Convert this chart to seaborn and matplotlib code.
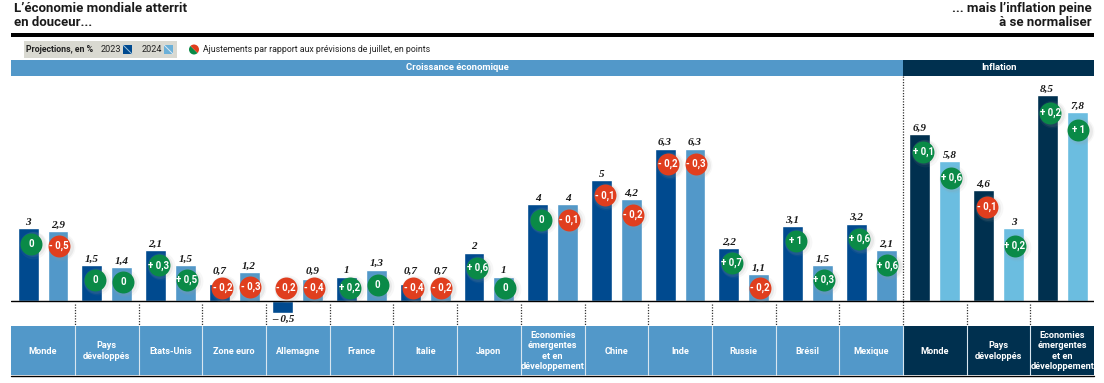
import matplotlib
matplotlib.use("Agg")
import matplotlib.pyplot as plt
from matplotlib.patches import Rectangle, Wedge
import numpy as np
import pandas as pd
import seaborn as sns

growth_labels = ["Monde", "Pays\ndéveloppés", "Etats-Unis", "Zone euro", "Allemagne", "France", "Italie", "Japon",
                 "Economies\némergentes\net en\ndéveloppement", "Chine", "Inde", "Russie", "Brésil", "Mexique"]
inflation_labels = ["Monde", "Pays\ndéveloppés", "Economies\némergentes\net en\ndéveloppement"]
growth_2023 = [3, 1.5, 2.1, 0.7, -0.5, 1, 0.7, 2, 4, 5, 6.3, 2.2, 3.1, 3.2]
growth_2024 = [2.9, 1.4, 1.5, 1.2, 0.9, 1.3, 0.7, 1, 4, 4.2, 6.3, 1.1, 1.5, 2.1]
inflation_2023 = [6.9, 4.6, 8.5]
inflation_2024 = [5.8, 3, 7.8]
adjust_2023 = [0, 0, 0.3, -0.2, -0.2, 0.2, -0.4, 0.6, 0, -0.1, -0.2, 0.7, 1, 0.6, 0.1, -0.1, 0.2]
adjust_2024 = [-0.5, 0, 0.5, -0.3, -0.4, 0, -0.2, 0, -0.1, -0.2, -0.3, -0.2, 0.3, 0.6, 0.6, 0.2, 1]

C_G23, C_G24, C_I23, C_I24 = "#004a8f", "#5298c9", "#00304f", "#6bbde0"
GREEN, RED = "#0a8a47", "#e03e1e"
NARROW = ["Liberation Sans Narrow", "Roboto", "DejaVu Sans"]
SERIF = ["Liberation Serif", "DejaVu Serif"]

sns.set_theme(style="white")
plt.rcParams["font.family"] = NARROW

W, H = 1104, 383
fig = plt.figure(figsize=(W / 100, H / 100), dpi=100)
CELL = 63.7
X0 = 11.2
TOP, BOT, BASE, PPU = 75.5, 326.0, 301.0, 24.18
n_g, n_i = len(growth_labels), len(inflation_labels)
n = n_g + n_i

ax = fig.add_axes([X0 / W, 1 - BOT / H, n * CELL / W, (BOT - TOP) / H])
ids = list(range(n))
frame = pd.DataFrame({
    "id": ids * 2,
    "year": ["2023"] * n + ["2024"] * n,
    "value": growth_2023 + inflation_2023 + growth_2024 + inflation_2024,
})
frame["panel"] = np.where(frame["id"] < n_g, "g", "i")
for panel, pal in (("g", [C_G23, C_G24]), ("i", [C_I23, C_I24])):
    sns.barplot(data=frame[frame["panel"] == panel], x="id", y="value", hue="year",
                order=ids, hue_order=["2023", "2024"], palette=pal, saturation=1,
                width=0.94, gap=0.3, dodge=True, legend=False, ax=ax, errorbar=None)
ax.set_xlim(-0.5, n - 0.5)
ax.set_ylim((BASE - BOT) / PPU, (BASE - TOP) / PPU)
ax.axis("off")
ax.axhline(0, color="black", lw=1.0, zorder=3)


def fr(v):
    s = f"{abs(v):g}".replace(".", ",")
    return s if v >= 0 else "– " + s


def signed(v):
    if v == 0:
        return "0"
    return ("+ " if v > 0 else "- ") + f"{abs(v):g}".replace(".", ",")


values = {0: growth_2023 + inflation_2023, 1: growth_2024 + inflation_2024}
adjusts = {0: adjust_2023, 1: adjust_2024}
bar_off = {0: -0.235, 1: 0.235}
bub_off = {0: -0.185, 1: 0.255}
for k in (0, 1):
    for i in ids:
        v, a = values[k][i], adjusts[k][i]
        ax.annotate(fr(v), (i + bar_off[k], max(v, 1.0) if v >= 0 else v),
                    xytext=(0, 1 if v >= 0 else -1), textcoords="offset points",
                    ha="center", va="bottom" if v >= 0 else "top",
                    family=SERIF, style="italic", weight="bold", fontsize=8,
                    color="#1a1a1a", zorder=6)
        drop = 0.63 if i < n_g else 0.72
        by = max(v - drop, 0.54)
        bx = i + bub_off[k]
        c = GREEN if a >= 0 else RED
        ax.scatter([bx + 0.03], [by - 0.04], s=400, color="#999999", alpha=0.08, linewidths=0, zorder=4)
        ax.scatter([bx + 0.02], [by - 0.03], s=320, color="#999999", alpha=0.14, linewidths=0, zorder=4)
        ax.scatter([bx], [by], s=250, color=c, linewidths=0, zorder=5)
        ax.text(bx, by, signed(a), ha="center", va="center", color="white",
                weight="bold", fontsize=7, zorder=7)

# Overlay in pixels for the page furniture
ov = fig.add_axes([0, 0, 1, 1], zorder=-1)
ov.set_xlim(0, W)
ov.set_ylim(H, 0)
ov.axis("off")
ax.set_zorder(2)
ax.patch.set_alpha(0)
ov2 = fig.add_axes([0, 0, 1, 1], zorder=3)
ov2.set_xlim(0, W)
ov2.set_ylim(H, 0)
ov2.axis("off")
ov2.patch.set_alpha(0)

title_kw = dict(weight="bold", fontsize=9.5, color="#1a1a1a", linespacing=1.05)
ov2.text(14, 15.5, "L’économie mondiale atterrit\nen douceur...", ha="left", va="center", **title_kw)
ov2.text(1092, 15.5, "... mais l’inflation peine\nà se normaliser", ha="right", va="center", multialignment="right", **title_kw)
ov2.add_patch(Rectangle((11, 32.5), 1083, 4, color="black", lw=0))

ov2.add_patch(Rectangle((24, 41), 153, 17, color="#d9d9d1", lw=0))
ov2.text(26, 49, "Projections, en %", ha="left", va="center", weight="bold", fontsize=6.3, color="#222222")
ov2.text(101, 49, "2023", ha="left", va="center", fontsize=6.6, color="#222222")
ov2.text(142, 49, "2024", ha="left", va="center", fontsize=6.6, color="#222222")
for sx, col, line in ((123, C_G23, "#9fc3dc"), (164, "#6bb0d8", "#dbeaf3")):
    ov2.add_patch(Rectangle((sx, 45), 9, 9, color=col, lw=0))
    ov2.plot([sx, sx + 9], [45, 54], color=line, lw=0.7)
cx, cy, r = 194, 49.5, 5
ov2.add_patch(Wedge((cx, cy), r, 45, 225, color=GREEN, lw=0))
ov2.add_patch(Wedge((cx, cy), r, 225, 45, color=RED, lw=0))
ov2.text(203, 49, "Ajustements par rapport aux prévisions de juillet, en points",
         ha="left", va="center", fontsize=6.3, color="#222222")

split = X0 + n_g * CELL
right = X0 + n * CELL
ov.add_patch(Rectangle((11, 60), split - 11, 15.5, color=C_G24, lw=0))
ov.add_patch(Rectangle((split, 60), right - split, 15.5, color=C_I23, lw=0))
ov2.text((11 + split) / 2, 67.5, "Croissance économique", ha="center", va="center", color="white", weight="bold", fontsize=6.8)
ov2.text((split + right) / 2, 67.5, "Inflation", ha="center", va="center", color="white", weight="bold", fontsize=6.8)

ov.add_patch(Rectangle((11, 326), split - 11, 49, color=C_G24, lw=0))
ov.add_patch(Rectangle((split, 326), right - split, 49, color=C_I23, lw=0))
ov2.plot([11, right], [375.5, 375.5], color="black", lw=1)

for i, lab in enumerate(growth_labels + inflation_labels):
    ov2.text(X0 + (i + 0.5) * CELL, 351, lab, ha="center", va="center", color="white",
             weight="bold", fontsize=6.6, linespacing=1.2)
    if i > 0:
        xb = X0 + i * CELL
        ov2.plot([xb, xb], [326, 375], color="#d8e6f0", lw=0.8)
        ov2.plot([xb, xb], [304, 325] if i != n_g else [75.5, 325], color="#333333", lw=0.9, ls=(0, (1, 1.2)))

fig.savefig("out.png", dpi=100, facecolor="white")
